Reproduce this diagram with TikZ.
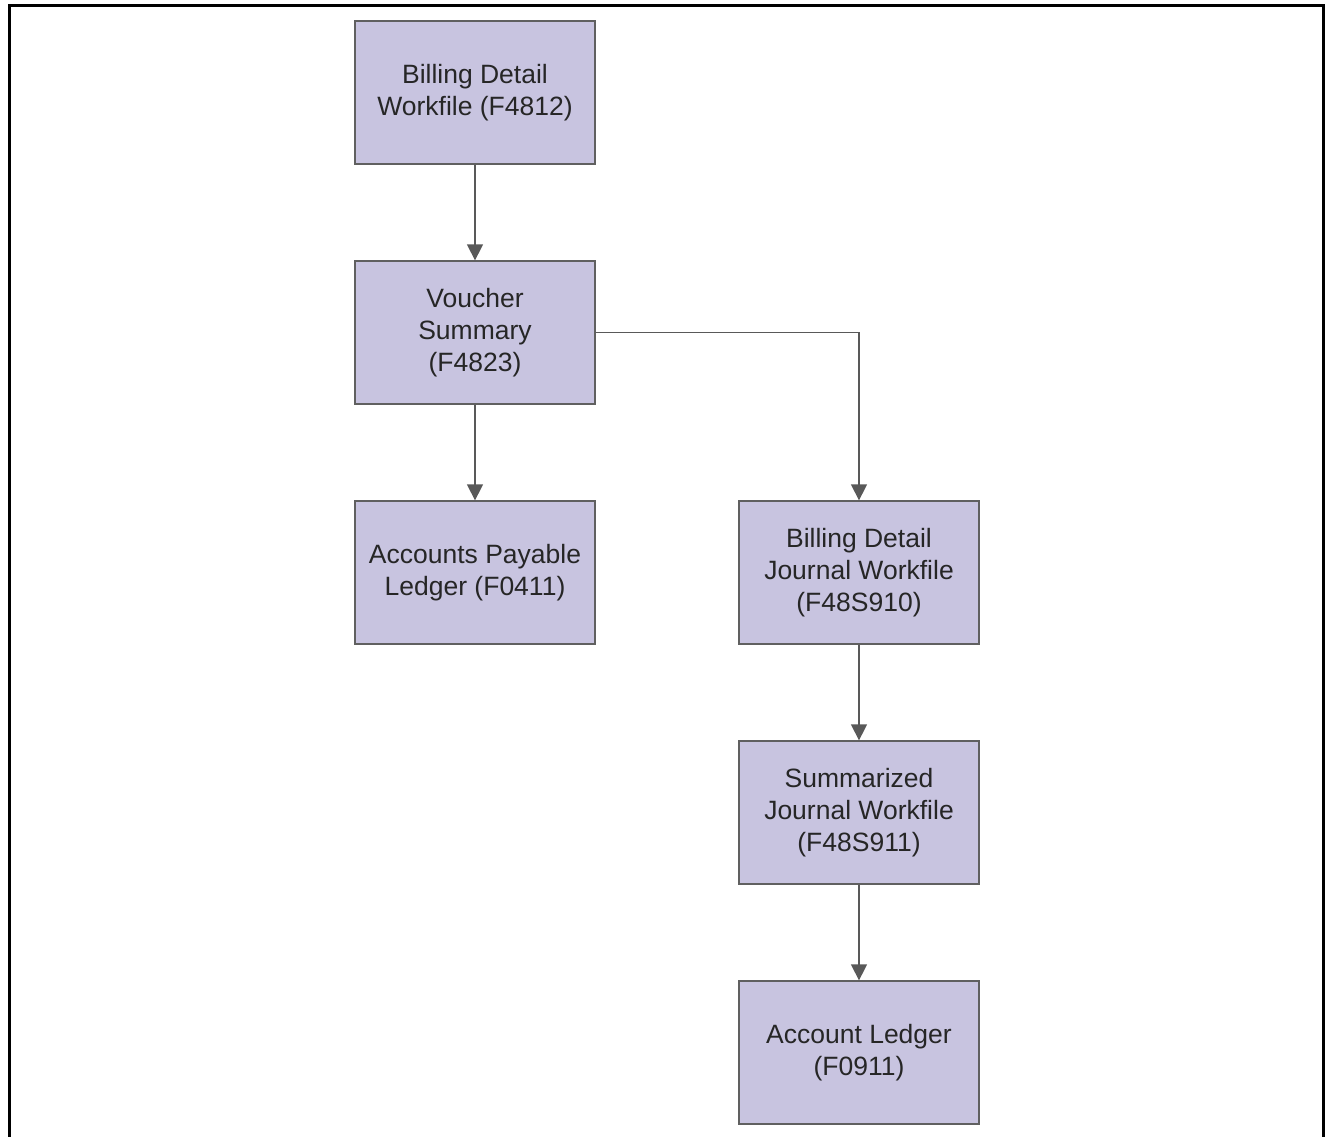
\documentclass[tikz,border=0pt]{standalone}
\usepackage{fontspec}
\setmainfont{Liberation Sans}
\usetikzlibrary{arrows.meta}
\definecolor{boxfill}{HTML}{C8C4E0}
\definecolor{boxline}{HTML}{606060}
\definecolor{arrowc}{HTML}{595959}
\begin{document}
\begin{tikzpicture}[x=1pt,y=-1pt,
  box/.style={draw=boxline, line width=1.3pt, fill=boxfill, minimum width=240pt, minimum height=143pt, inner sep=0pt, align=center, font=\fontsize{26.5pt}{32pt}\selectfont, text=black!85},
  conn/.style={draw=arrowc, line width=1.4pt, -{Triangle[width=16pt,length=16pt]}}]
\useasboundingbox (0,0) rectangle (1328,1137);
\draw[line width=3pt] (9,1140) -- (9,6) -- (1323,6) -- (1323,1140);
\node[box] (b1) at (475,92.5) {Billing Detail\\Workfile (F4812)};
\node[box] (b2) at (475,332.5) {Voucher\\Summary\\(F4823)};
\node[box] (b3) at (475,572.5) {Accounts Payable\\Ledger (F0411)};
\node[box] (b4) at (859,572.5) {Billing Detail\\Journal Workfile\\(F48S910)};
\node[box] (b5) at (859,812.5) {Summarized\\Journal Workfile\\(F48S911)};
\node[box] (b6) at (859,1052.5) {Account Ledger\\(F0911)};
\draw[conn] (b1) -- (b2);
\draw[conn] (b2) -- (b3);
\draw[conn] (b2.east) -- (b2.east -| b4.north) -- (b4.north);
\draw[conn] (b4) -- (b5);
\draw[conn] (b5) -- (b6);
\end{tikzpicture}
\end{document}
